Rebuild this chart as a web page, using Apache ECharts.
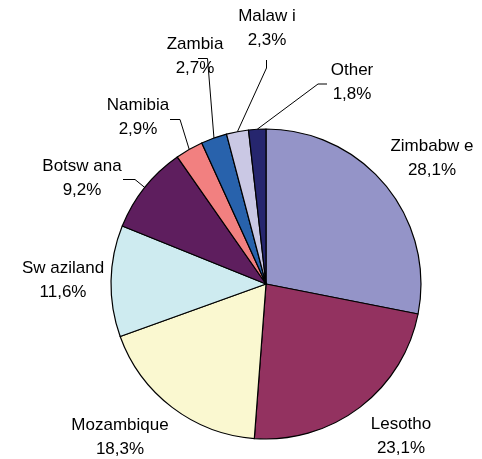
<!DOCTYPE html>
<html>
<head>
<meta charset="utf-8">
<script src="https://cdn.jsdelivr.net/npm/echarts@6/dist/echarts.min.js"></script>
<style>
html,body{margin:0;padding:0;background:#fff;}
#chart{width:482px;height:459px;}
</style>
</head>
<body>
<div id="chart"></div>
<script>
// 数据
var names = ['Zimbabw e', 'Lesotho', 'Mozambique', 'Sw aziland', 'Botsw ana', 'Namibia', 'Zambia', 'Malaw i', 'Other'];
var shares = [28.1, 23.1, 18.3, 11.6, 9.2, 2.9, 2.7, 2.3, 1.8];
var colors = ['#9494c8', '#933260', '#faf8d0', '#ceebf0', '#5e1e5e', '#f28080', '#2862ac', '#cac8e4', '#26266e'];

// 标签位置 (文字块中心) 和引导线折点
var labelPos = [
    [432, 158], [401, 436], [120, 437], [63, 280], [82, 178],
    [138, 117], [195, 56], [267, 28], [352, 82]
];
var linePts = [
    null, null, null, null,
    [[135, 179.5], [123, 179.5]],
    [[180, 119.5], [170, 119.5]],
    [[207.5, 58.5], [198, 58.5]],
    [[266.5, 68], [266.5, 60]],
    [[318, 84], [327, 84]]
];

var myChart = echarts.init(document.getElementById('chart'));

var pieData = [];
for (var i = 0; i < names.length; i++) {
    pieData.push({
        name: names[i],
        value: shares[i],
        itemStyle: {color: colors[i]},
        labelLine: {show: linePts[i] != null}
    });
}

var option = {
    animation: false,
    backgroundColor: '#fff',
    series: [{
        type: 'pie',
        center: [266, 284],
        radius: 155,
        startAngle: 90,
        clockwise: true,
        data: pieData,
        itemStyle: {borderColor: '#000', borderWidth: 1.2},
        emphasis: {disabled: true},
        label: {
            show: true,
            position: 'outside',
            color: '#000',
            fontFamily: '"Liberation Sans", Arial, sans-serif',
            fontSize: 17,
            lineHeight: 24,
            align: 'center',
            overflow: 'none',
            formatter: function (p) {
                return p.name + '\n' + p.value.toFixed(1).replace('.', ',') + '%';
            }
        },
        labelLine: {
            show: true,
            lineStyle: {color: '#000', width: 1}
        },
        labelLayout: function (params) {
            var i = params.dataIndex;
            var res = {
                x: labelPos[i][0],
                y: labelPos[i][1],
                align: 'center',
                verticalAlign: 'middle'
            };
            if (linePts[i] && params.labelLinePoints) {
                res.labelLinePoints = [params.labelLinePoints[0], linePts[i][0], linePts[i][1]];
            }
            return res;
        }
    }]
};

myChart.setOption(option);
</script>
</body>
</html>
